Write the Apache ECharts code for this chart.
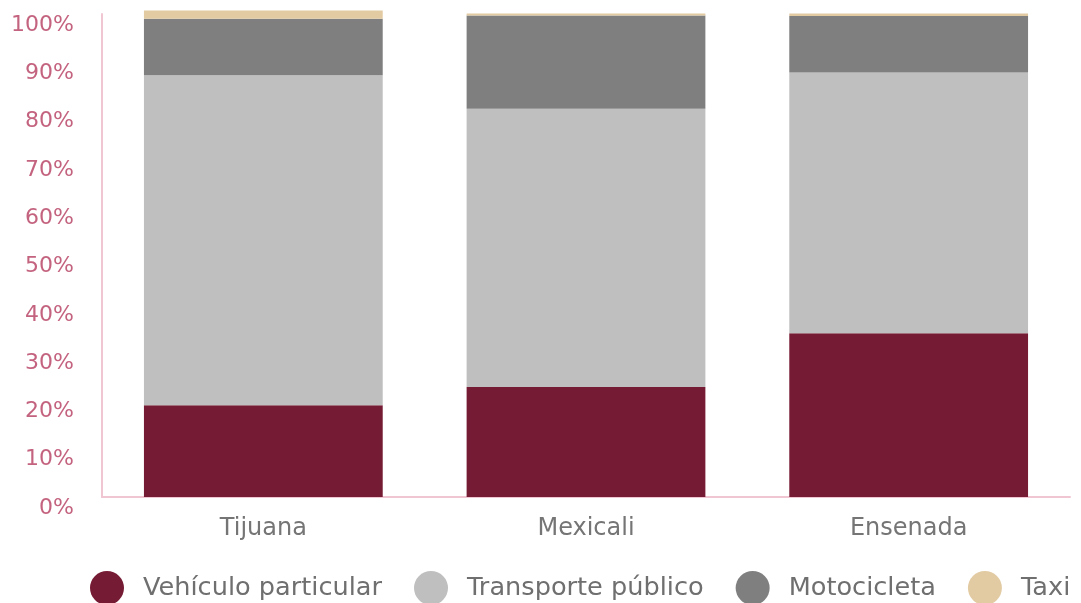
<!DOCTYPE html>
<html>
<head>
<meta charset="utf-8">
<title>Modo de transporte por municipio</title>
<script src="https://cdn.jsdelivr.net/npm/echarts@6/dist/echarts.min.js"></script>
<style>
  html, body { margin: 0; padding: 0; background: #ffffff; }
  #chart { width: 1081px; height: 603px; }
</style>
</head>
<body>
<div id="chart"></div>
<script>
// Municipios
const categories = ['Tijuana', 'Mexicali', 'Ensenada'];

// Porcentaje de viajes por modo de transporte
const vehiculoParticular = [19.0, 22.8, 33.9];
const transportePublico  = [68.3, 57.6, 54.0];
const motocicleta        = [11.7, 19.3, 11.7];
const taxi               = [1.7, 0.4, 0.5];

const seriesNames = ['Vehículo particular', 'Transporte público', 'Motocicleta', 'Taxi'];
const seriesColors = ['#761b34', '#bfbfbf', '#7f7f7f', '#e2cba2'];
const seriesValues = [vehiculoParticular, transportePublico, motocicleta, taxi];

const axisLineStyle = { color: '#f1c6d3', width: 2 };
const font = '"DejaVu Sans", "Open Sans", sans-serif';

const chart = echarts.init(document.getElementById('chart'), null, { renderer: 'canvas' });

chart.setOption({
  animation: false,
  backgroundColor: '#ffffff',
  grid: { left: 102, right: 11, top: 14, bottom: 106, containLabel: false },
  legend: {
    data: seriesNames,
    left: 85,
    top: 566,
    padding: 5,
    icon: 'circle',
    itemWidth: 34,
    itemHeight: 34,
    itemGap: 32,
    textStyle: { fontFamily: font, fontSize: 25.6, color: '#6f6f6f', padding: [0, 0, 0, 14] }
  },
  xAxis: {
    type: 'category',
    data: categories,
    axisLine: { show: true, lineStyle: axisLineStyle },
    axisTick: { show: false },
    axisLabel: { fontFamily: font, fontSize: 24, color: '#757575', margin: 20 }
  },
  yAxis: {
    type: 'value',
    min: 0,
    max: 100,
    interval: 10,
    axisLine: { show: true, lineStyle: axisLineStyle },
    axisTick: { show: false },
    splitLine: { show: false },
    axisLabel: {
      fontFamily: font,
      fontSize: 22,
      color: '#c4637f',
      margin: 28,
      verticalAlign: 'top',
      formatter: '{value}%'
    }
  },
  series: seriesNames.map((name, i) => ({
    name,
    type: 'bar',
    stack: 'modo',
    barWidth: '74%',
    clip: false,
    itemStyle: { color: seriesColors[i] },
    data: seriesValues[i]
  }))
});
</script>
</body>
</html>
